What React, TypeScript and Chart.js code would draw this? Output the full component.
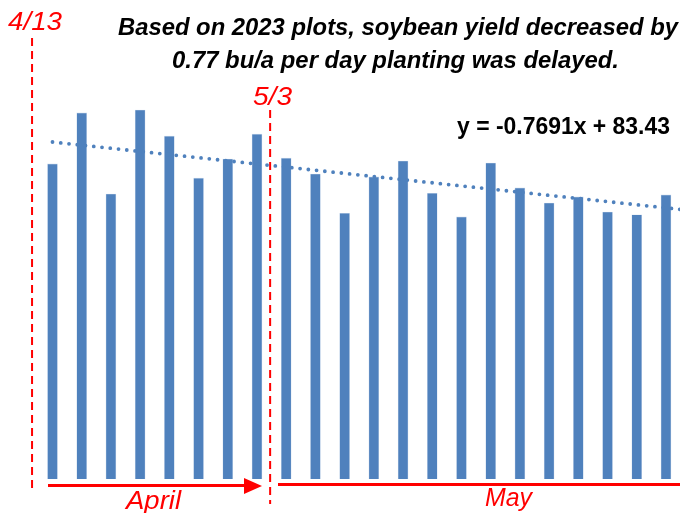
import React, { useEffect, useRef } from "react";
import { Chart, registerables } from "chart.js";

Chart.register(...registerables);

// Planting order (day index of each plot, April 14 onward)
const plotIndex = [1, 2, 3, 4, 5, 6, 7, 8, 9, 10, 11, 12, 13, 14, 15, 16, 17, 18, 19, 20, 21, 22];
// Soybean yield (bu/a)
const yields = [77.3, 89.8, 69.9, 90.5, 84.1, 73.8, 78.5, 84.6, 78.7, 74.8, 65.2, 74.1, 78.0, 70.1, 64.3, 77.5, 71.4, 67.7, 69.2, 65.5, 64.8, 69.7];
// Linear trend
const trendSlope = -0.7691;
const trendIntercept = 83.43;
const trendRange = [1, 22.5];

const titleLines = [
  "Based on 2023 plots, soybean yield decreased by",
  "0.77 bu/a per day planting was delayed.",
];
const equationText = "y = -0.7691x + 83.43";
const markerLabels = ["4/13", "5/3"];
const monthLabels = ["April", "May"];

const BLUE = "#4f81bd";
const RED = "#ff0000";

function fitText(ctx: CanvasRenderingContext2D, text: string, x: number, y: number, width: number, font: string, color: string) {
  ctx.save();
  ctx.font = font;
  ctx.fillStyle = color;
  ctx.textAlign = "left";
  ctx.textBaseline = "alphabetic";
  const w = ctx.measureText(text).width;
  const s = width / w;
  ctx.translate(x, y);
  ctx.scale(s, 1);
  ctx.fillText(text, 0, 0);
  ctx.restore();
}

const overlayPlugin = {
  id: "overlay",
  afterDatasetsDraw(chart: any) {
    const ctx: CanvasRenderingContext2D = chart.ctx;
    const xs = chart.scales.x;
    const titleFont = "italic bold 24px 'Liberation Sans Narrow', 'Liberation Sans', Arial, sans-serif";
    fitText(ctx, titleLines[0], 118, 35, 560, titleFont, "#000");
    fitText(ctx, titleLines[1], 172, 68, 447, titleFont, "#000");
    fitText(ctx, equationText, 457, 134, 213, "bold 24px 'Liberation Sans Narrow', 'Liberation Sans', Arial, sans-serif", "#000");

    const redFont = "italic 25px 'Liberation Sans', Arial, sans-serif";
    // marker lines
    const m1 = xs.getPixelForValue(0.3);
    const m2 = xs.getPixelForValue(8.45);
    ctx.save();
    ctx.strokeStyle = RED;
    ctx.lineWidth = 2;
    ctx.setLineDash([8, 5]);
    ctx.beginPath();
    ctx.moveTo(m1, 38);
    ctx.lineTo(m1, 489);
    ctx.stroke();
    ctx.beginPath();
    ctx.moveTo(m2, 110);
    ctx.lineTo(m2, 504);
    ctx.stroke();
    ctx.restore();
    fitText(ctx, markerLabels[0], 8, 30, 54, redFont, RED);
    fitText(ctx, markerLabels[1], 253, 105, 39, redFont, RED);

    // April arrow
    ctx.save();
    ctx.strokeStyle = RED;
    ctx.fillStyle = RED;
    ctx.lineWidth = 3;
    ctx.beginPath();
    ctx.moveTo(48, 485.5);
    ctx.lineTo(248, 485.5);
    ctx.stroke();
    ctx.beginPath();
    ctx.moveTo(244, 478);
    ctx.lineTo(262, 486);
    ctx.lineTo(244, 494);
    ctx.closePath();
    ctx.fill();
    // May line
    ctx.beginPath();
    ctx.moveTo(278, 484.5);
    ctx.lineTo(680, 484.5);
    ctx.stroke();
    ctx.restore();
    fitText(ctx, monthLabels[0], 126, 509, 55, redFont, RED);
    fitText(ctx, monthLabels[1], 485, 506, 47, redFont, RED);
  },
};

export default function App() {
  const ref = useRef<HTMLCanvasElement>(null);
  useEffect(() => {
    if (!ref.current) return;
    const barData = plotIndex.map((x, i) => ({ x, y: yields[i] }));
    const trendData = trendRange.map((x) => ({ x, y: trendIntercept + trendSlope * x }));
    const chart = new Chart(ref.current, {
      type: "bar",
      data: {
        datasets: [
          {
            type: "line",
            data: trendData,
            borderColor: BLUE,
            borderWidth: 3.8,
            borderDash: [0, 8.3],
            borderCapStyle: "round",
            pointRadius: 0,
            fill: false,
            order: 0,
          } as any,
          {
            type: "bar",
            data: barData,
            backgroundColor: BLUE,
            borderColor: "rgba(200,215,235,0.9)",
            borderWidth: 0.6,
            barThickness: 10,
            order: 1,
          } as any,
        ],
      },
      options: {
        animation: false,
        responsive: false,
        layout: { padding: { left: 0, right: 0, top: 0, bottom: 34 } },
        plugins: { legend: { display: false }, tooltip: { enabled: false } },
        scales: {
          x: { type: "linear", min: -0.797, max: 22.48, display: false, offset: false },
          y: { min: 0, max: 117.5, display: false },
        },
      },
      plugins: [overlayPlugin],
    });
    return () => chart.destroy();
  }, []);
  return (
    <div style={{ position: "absolute", left: 0, top: 0, width: 680, height: 513, background: "#fff" }}>
      <canvas ref={ref} width={680} height={513} />
    </div>
  );
}
